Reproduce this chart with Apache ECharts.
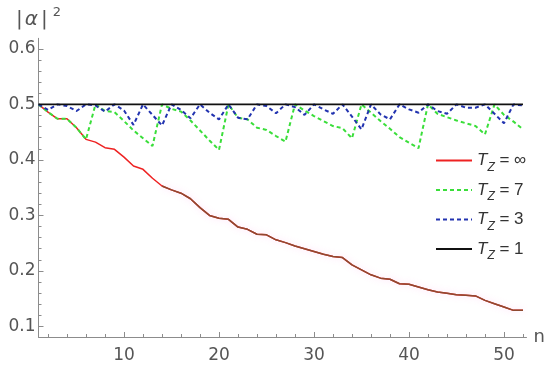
<!DOCTYPE html>
<html><head><meta charset="utf-8">
<script src="https://cdn.jsdelivr.net/npm/echarts@6/dist/echarts.min.js"></script>
<style>html,body{margin:0;padding:0;background:#fff}#c{width:550px;height:368px}</style>
</head><body><div id="c"></div>
<script>
// ---- data ----
const nValues = [1,2,3,4,5,6,7,8,9,10,11,12,13,14,15,16,17,18,19,20,21,22,23,24,25,26,27,28,29,30,31,32,33,34,35,36,37,38,39,40,41,42,43,44,45,46,47,48,49,50,51,52];
const tzInf = [0.500,0.486,0.474,0.474,0.458,0.437,0.432,0.422,0.419,0.405,
  0.389,0.383,0.367,0.353,0.346,0.340,0.330,0.314,0.300,0.295,
  0.293,0.279,0.275,0.266,0.265,0.256,0.251,0.245,0.240,0.235,
  0.230,0.226,0.224,0.211,0.202,0.193,0.187,0.185,0.177,0.176,
  0.171,0.166,0.162,0.160,0.157,0.156,0.155,0.147,0.141,0.135,
  0.129,0.129];
const tz7 = [0.500,0.486,0.474,0.474,0.458,0.437,0.500,0.488,0.486,0.470,
  0.453,0.439,0.425,0.500,0.492,0.487,0.471,0.453,0.435,0.418,
  0.500,0.476,0.473,0.458,0.454,0.443,0.433,0.500,0.489,0.479,
  0.470,0.461,0.457,0.439,0.500,0.485,0.470,0.456,0.441,0.431,
  0.421,0.500,0.483,0.477,0.471,0.466,0.461,0.446,0.500,0.481,
  0.469,0.455];
const tz3 = [0.500,0.490,0.500,0.497,0.488,0.500,0.498,0.487,0.500,0.489,
  0.463,0.500,0.481,0.462,0.500,0.490,0.475,0.500,0.485,0.473,
  0.500,0.476,0.473,0.500,0.497,0.484,0.500,0.495,0.481,0.500,
  0.491,0.483,0.500,0.478,0.455,0.500,0.482,0.473,0.500,0.491,
  0.485,0.500,0.488,0.483,0.500,0.494,0.494,0.500,0.483,0.466,
  0.500,0.498];
const tz1 = [0.5,0.5,0.5,0.5,0.5,0.5,0.5,0.5,0.5,0.5,
  0.5,0.5,0.5,0.5,0.5,0.5,0.5,0.5,0.5,0.5,
  0.5,0.5,0.5,0.5,0.5,0.5,0.5,0.5,0.5,0.5,
  0.5,0.5,0.5,0.5,0.5,0.5,0.5,0.5,0.5,0.5,
  0.5,0.5,0.5,0.5,0.5,0.5,0.5,0.5,0.5,0.5,
  0.5,0.5];
const legendValues = ['∞', '7', '3', '1'];
const xMajorTicks = [10,20,30,40,50];
const xMinorTicks = [2,4,6,8,12,14,16,18,22,24,26,28,32,34,36,38,42,44,46,48,52];
const yMajorTicks = [0.1,0.2,0.3,0.4,0.5,0.6];
const yMinorTicks = [0.12,0.14,0.16,0.18,0.22,0.24,0.26,0.28,0.32,0.34,0.36,0.38,0.42,0.44,0.46,0.48,0.52,0.54,0.56,0.58];
const tailStart = 14;

// ---- build ----
const pairs = arr => nValues.map((n, i) => [n, arr[i]]);
const names = legendValues.map(v => 'Tz=' + v);
const axisGray = '#8c8c8c';
const labelColor = '#555';
const tickFont = 'DejaVu Sans';

const chart = echarts.init(document.getElementById('c'), null, {renderer: 'canvas'});
chart.setOption({
  animation: false,
  backgroundColor: '#fff',
  grid: {left: 38.5, right: 23.5, top: 38.3, bottom: 31, containLabel: false},
  xAxis: [{
    type: 'value', min: 1, max: 52.37,
    axisLine: {onZero: false, lineStyle: {color: axisGray, width: 1}},
    axisTick: {inside: true, length: 5, customValues: xMajorTicks, lineStyle: {color: axisGray}},
    axisLabel: {customValues: xMajorTicks, margin: 10, fontSize: 17, color: labelColor, fontFamily: tickFont},
    splitLine: {show: false},
    name: 'n', nameLocation: 'end', nameGap: 7,
    nameTextStyle: {fontSize: 18, color: labelColor, fontFamily: tickFont, verticalAlign: 'middle', padding: [0,0,6,0]}
  }, {
    type: 'value', min: 1, max: 52.37, position: 'bottom', offset: 0,
    axisLine: {show: false},
    axisTick: {inside: true, length: 3, customValues: xMinorTicks, lineStyle: {color: axisGray}},
    axisLabel: {show: false},
    splitLine: {show: false}
  }],
  yAxis: [{
    type: 'value', min: 0.081, max: 0.619,
    axisLine: {show: true, onZero: false, lineStyle: {color: axisGray, width: 1}},
    axisTick: {show: true, inside: true, length: 5, customValues: yMajorTicks, lineStyle: {color: axisGray}},
    axisLabel: {customValues: yMajorTicks, margin: 3, fontSize: 17, color: labelColor, fontFamily: tickFont,
      formatter: v => v.toFixed(1)},
    splitLine: {show: false},
    name: '{b||}{a|α}{b||}{s|2}', nameLocation: 'end', nameGap: 6,
    nameTextStyle: {
      color: labelColor, fontFamily: tickFont, align: 'center',
      rich: {
        a: {fontSize: 20, fontStyle: 'italic', color: labelColor, fontFamily: tickFont, lineHeight: 26, padding: [0,3,0,2]},
        b: {fontSize: 20, color: labelColor, fontFamily: tickFont, lineHeight: 26},
        s: {fontSize: 13, color: labelColor, fontFamily: tickFont, lineHeight: 26, verticalAlign: 'top', padding: [0,0,0,5]}
      }
    }
  }, {
    type: 'value', min: 0.081, max: 0.619, position: 'left', offset: 0,
    axisLine: {show: false},
    axisTick: {show: true, inside: true, length: 3, customValues: yMinorTicks, lineStyle: {color: axisGray}},
    axisLabel: {show: false},
    splitLine: {show: false}
  }],
  legend: {
    data: names, orient: 'vertical', left: 430, top: 147,
    itemWidth: 36, itemHeight: 14, itemGap: 8,
    itemStyle: {opacity: 0, color: 'rgba(0,0,0,0)', borderWidth: 0},
    formatter: name => '{t|T}{z|Z}{e| = ' + name.slice(3) + '}',
    textStyle: {
      color: '#333', fontFamily: 'Liberation Sans',
      rich: {
        t: {fontSize: 17, fontStyle: 'italic', fontFamily: 'Liberation Sans', color: '#333', lineHeight: 20},
        z: {fontSize: 12, fontStyle: 'italic', fontFamily: 'Liberation Sans', color: '#333', lineHeight: 20, verticalAlign: 'bottom', padding: [0,0,-3,0]},
        e: {fontSize: 17, fontFamily: 'Liberation Sans', color: '#333', lineHeight: 20}
      }
    }
  },
  series: [
    {name: names[0], type: 'line', data: pairs(tzInf), symbol: 'none', z: 2,
     lineStyle: {color: '#ee2222', width: 1.5}, itemStyle: {color: '#ee2222'}},
    {name: 'tail', type: 'line', data: pairs(tzInf).map(p => p[0] >= tailStart ? p : [p[0], null]),
     symbol: 'none', z: 3, connectNulls: false, silent: true,
     lineStyle: {color: '#8e4a30', width: 1.5, shadowColor: 'rgba(255,120,220,0.35)', shadowBlur: 6},
     itemStyle: {color: '#8e4a30'}},
    {name: names[1], type: 'line', data: pairs(tz7), symbol: 'none', z: 4,
     lineStyle: {color: '#3ade3a', width: 2, type: [4, 3]}, itemStyle: {color: '#3ade3a'}},
    {name: names[2], type: 'line', data: pairs(tz3), symbol: 'none', z: 5,
     lineStyle: {color: '#2233b0', width: 2, type: [4, 3]}, itemStyle: {color: '#2233b0'}},
    {name: names[3], type: 'line', data: pairs(tz1), symbol: 'none', z: 6,
     lineStyle: {color: '#111', width: 1.6}, itemStyle: {color: '#111'}}
  ]
});
</script>
</body></html>
